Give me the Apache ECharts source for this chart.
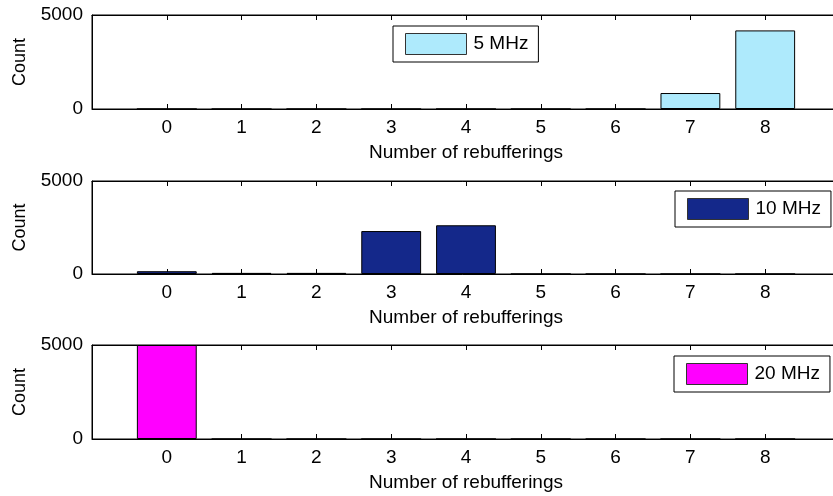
<!DOCTYPE html>
<html>
<head>
<meta charset="utf-8">
<script src="https://cdn.jsdelivr.net/npm/echarts@6/dist/echarts.min.js"></script>
<style>
  html, body { margin: 0; padding: 0; background: #fff; }
  #chart { width: 833px; height: 496px; }
</style>
</head>
<body>
<div id="chart"></div>
<script>
// Histogram of rebuffering events per channel bandwidth
const rebufferings = [0, 1, 2, 3, 4, 5, 6, 7, 8];
const count5MHz  = [0, 0, 0, 0, 0, 0, 0, 850, 4180];
const count10MHz = [150, 60, 60, 2310, 2620, 0, 0, 0, 0];
const count20MHz = [5000, 0, 0, 0, 0, 0, 0, 0, 0];
const yTicks = [0, 5000];
const seriesNames = ['5 MHz', '10 MHz', '20 MHz'];
const seriesColors = ['#aeeafc', '#14288a', '#ff00ff'];
const seriesValues = [count5MHz, count10MHz, count20MHz];

const FONT = "'Liberation Sans', Arial, sans-serif";
const GRID_LEFT = 92;
const GRID_WIDTH = 748;          // axis spans -1 .. 9, right edge runs past the canvas
const X_MIN = -1, X_MAX = 9;
const unitPx = GRID_WIDTH / (X_MAX - X_MIN);

const panels = [
  { top: 15,  height: 94, legend: { left: 393, top: 26 } },
  { top: 181, height: 93, legend: { left: 675, top: 191 } },
  { top: 345, height: 94, legend: { left: 674, top: 356 } }
];

const grid = [], xAxis = [], yAxis = [], series = [], legend = [];

panels.forEach((p, i) => {
  grid.push({
    left: GRID_LEFT, top: p.top, width: GRID_WIDTH, height: p.height,
    outerBoundsMode: 'none', containLabel: false,
    show: true, borderColor: '#000', borderWidth: 1, backgroundColor: '#fff'
  });

  const tickStyle = { show: true, inside: true, length: 5, lineStyle: { color: '#000', width: 1 } };

  // bottom axis with labels and title
  xAxis.push({
    type: 'value', gridIndex: i, position: 'bottom',
    min: X_MIN, max: X_MAX, interval: 1,
    axisLine: { show: true, onZero: false, lineStyle: { color: '#000', width: 1 } },
    axisTick: tickStyle,
    splitLine: { show: false },
    axisLabel: {
      show: true, margin: 9, fontSize: 19, color: '#000', fontFamily: FONT,
      formatter: v => rebufferings.includes(v) ? String(v) : ''
    },
    name: 'Number of rebufferings', nameLocation: 'middle', nameGap: 34,
    nameTextStyle: { fontSize: 19, color: '#000', fontFamily: FONT }
  });
  // top axis: inward ticks only
  xAxis.push({
    type: 'value', gridIndex: i, position: 'top',
    min: X_MIN, max: X_MAX, interval: 1,
    axisLine: { show: true, onZero: false, lineStyle: { color: '#000', width: 1 } },
    axisTick: tickStyle,
    splitLine: { show: false },
    axisLabel: { show: false }
  });

  yAxis.push({
    type: 'value', gridIndex: i, position: 'left',
    min: yTicks[0], max: yTicks[yTicks.length - 1], interval: yTicks[1] - yTicks[0],
    axisLine: { show: true, onZero: false, lineStyle: { color: '#000', width: 1 } },
    axisTick: tickStyle,
    splitLine: { show: false },
    axisLabel: {
      show: true, margin: 9, fontSize: 19, color: '#000', fontFamily: FONT,
      formatter: v => String(v)
    },
    name: 'Count', nameLocation: 'middle', nameGap: 63,
    nameTextStyle: { fontSize: 18, color: '#000', fontFamily: FONT }
  });

  series.push({
    name: seriesNames[i], type: 'bar',
    xAxisIndex: 2 * i, yAxisIndex: i,
    barWidth: 0.8 * unitPx,
    data: rebufferings.map((x, k) => [x, seriesValues[i][k]]),
    itemStyle: { color: seriesColors[i], borderColor: '#000', borderWidth: 1 },
    emphasis: { disabled: true }
  });

  legend.push({
    show: true, data: [seriesNames[i]],
    left: p.legend.left, top: p.legend.top,
    orient: 'horizontal', icon: 'rect',
    itemWidth: 61, itemHeight: 21,
    borderColor: '#000', borderWidth: 1, borderRadius: 0, backgroundColor: '#fff',
    padding: [7, 10, 7, 12],
    selectedMode: false,
    itemStyle: { borderColor: '#333', borderWidth: 1 },
    textStyle: { fontSize: 19, color: '#000', fontFamily: FONT, padding: [0, 0, 0, 2] }
  });
});

const chart = echarts.init(document.getElementById('chart'), null, { renderer: 'canvas' });
chart.setOption({
  animation: false,
  backgroundColor: '#fff',
  grid, xAxis, yAxis, series, legend
});
</script>
</body>
</html>
